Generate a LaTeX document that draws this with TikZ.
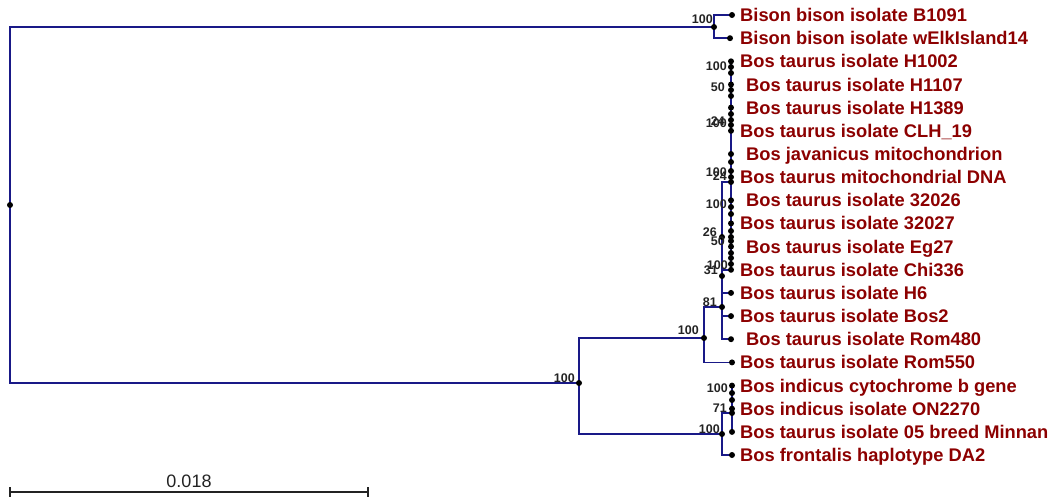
\documentclass[tikz,border=0pt]{standalone}
\usepackage{fontspec}
\setmainfont{Liberation Sans}
\definecolor{branch}{RGB}{25,25,135}
\definecolor{leafred}{RGB}{140,0,0}
\definecolor{numgray}{RGB}{35,35,35}
\tikzset{
  br/.style={draw=branch, line width=1.5pt},
  dotn/.style={fill=black, circle, inner sep=0pt, minimum size=6pt},
  leaflbl/.style={anchor=base west, inner sep=0pt, text=leafred, font=\fontsize{18.3}{20}\selectfont\bfseries},
  bs/.style={anchor=base east, inner sep=0pt, text=numgray, font=\fontsize{12.5}{14}\selectfont\bfseries},
  scalebar/.style={draw=numgray, line width=1.2pt},
}
\begin{document}
\begin{tikzpicture}[x=1pt,y=-1pt]
\useasboundingbox (0,0) rectangle (1057,498);

% internal nodes
\coordinate (root) at (10,205);
\coordinate (bison) at (714,27);
\coordinate (bos) at (579,383);
\coordinate (n100a) at (704,338);
\coordinate (n81) at (722,307);
\coordinate (n31) at (722,276);
\coordinate (n26) at (722,237);
\coordinate (n24) at (731,182);
\coordinate (nbot) at (722,434);
\coordinate (nb71) at (732,413);

% leaves
\coordinate (L1) at (732,15.0);
\coordinate (L2) at (730,38.2);
\coordinate (L3) at (731,61.3);
\coordinate (L4) at (731,84.5);
\coordinate (L5) at (731,107.6);
\coordinate (L6) at (731,130.8);
\coordinate (L7) at (731,154.0);
\coordinate (L8) at (731,177.1);
\coordinate (L9) at (731,200.3);
\coordinate (L10) at (731,223.4);
\coordinate (L11) at (731,246.6);
\coordinate (L12) at (731,269.8);
\coordinate (L13) at (731,292.9);
\coordinate (L14) at (731,316.1);
\coordinate (L15) at (731,339.2);
\coordinate (L16) at (732,362.4);
\coordinate (L17) at (732,385.6);
\coordinate (L18) at (732,408.7);
\coordinate (L19) at (732,431.9);
\coordinate (L20) at (732,455.0);

% branches
\draw[br] (root) |- (bison);
\draw[br] (root) |- (bos);
\draw[br] (bison) |- (L1);
\draw[br] (bison) |- (L2);
\draw[br] (bos) |- (n100a);
\draw[br] (bos) |- (nbot);
\draw[br] (n100a) |- (n81);
\draw[br] (n100a) |- (L16);
\draw[br] (n81) |- (L13);
\draw[br] (n81) |- (L14);
\draw[br] (n81) |- (L15);
\draw[br] (n81) -- (n31);
\draw[br] (n31) |- (L12);
\draw[br] (n31) -- (n26);
\draw[br] (n26) |- (n24);
\draw[br] (L3) -- (L12);
\draw[br] (nbot) |- (nb71);
\draw[br] (nbot) |- (L20);
\draw[br] (L17) -- (L19);

% dots
\foreach \p in {root,bison,bos,n100a,n81,n31,n26,n24,nbot,nb71,
  L1,L2,L3,L4,L5,L6,L7,L8,L9,L10,L11,L12,L13,L14,L15,L16,L17,L18,L19,L20}
  \node[dotn] at (\p) {};
\foreach \yy in {67,73,90,96,114,120,125,162,171,207,214,231,237,241,253,258,264}
  \node[dotn] at (731,\yy) {};
\foreach \yy in {393,400}
  \node[dotn] at (732,\yy) {};

% bootstrap values
\node[bs] (b1) at (713,23) {100};
\node[bs] (b2) at (727,70) {100};
\node[bs] (b3) at (725,91) {50};
\node[bs] (b4) at (727,127.5) {100};
\node[bs] (b5) at (725,125) {24};
\node[bs] (b6) at (727,176) {100};
\node[bs] (b7) at (727,180.5) {24};
\node[bs] (b8) at (727,208) {100};
\node[bs] (b9) at (717,236) {26};
\node[bs] (b10) at (725,245) {50};
\node[bs] (b11) at (728,269) {100};
\node[bs] (b12) at (718,274) {31};
\node[bs] (b13) at (717,306) {81};
\node[bs] (b14) at (699,334) {100};
\node[bs] (b15) at (575,382.5) {100};
\node[bs] (b16) at (728,392) {100};
\node[bs] (b17) at (727,412) {71};
\node[bs] (b18) at (720,433) {100};

% leaf labels
\node[leaflbl] (t1) at (740,21.5) {Bison bison isolate B1091};
\node[leaflbl] (t2) at (740,44.7) {Bison bison isolate wElkIsland14};
\node[leaflbl] (t3) at (740,67.8) {Bos taurus isolate H1002};
\node[leaflbl] (t4) at (746,91.0) {Bos taurus isolate H1107};
\node[leaflbl] (t5) at (746,114.1) {Bos taurus isolate H1389};
\node[leaflbl] (t6) at (740,137.3) {Bos taurus isolate CLH\_19};
\node[leaflbl] (t7) at (746,160.5) {Bos javanicus mitochondrion};
\node[leaflbl] (t8) at (740,183.6) {Bos taurus mitochondrial DNA};
\node[leaflbl] (t9) at (746,206.8) {Bos taurus isolate 32026};
\node[leaflbl] (t10) at (740,229.9) {Bos taurus isolate 32027};
\node[leaflbl] (t11) at (746,253.1) {Bos taurus isolate Eg27};
\node[leaflbl] (t12) at (740,276.3) {Bos taurus isolate Chi336};
\node[leaflbl] (t13) at (740,299.4) {Bos taurus isolate H6};
\node[leaflbl] (t14) at (740,322.6) {Bos taurus isolate Bos2};
\node[leaflbl] (t15) at (746,345.7) {Bos taurus isolate Rom480};
\node[leaflbl] (t16) at (740,368.9) {Bos taurus isolate Rom550};
\node[leaflbl] (t17) at (740,392.1) {Bos indicus cytochrome b gene};
\node[leaflbl] (t18) at (740,415.2) {Bos indicus isolate ON2270};
\node[leaflbl] (t19) at (740,438.4) {Bos taurus isolate 05 breed Minnan};
\node[leaflbl] (t20) at (740,461.5) {Bos frontalis haplotype DA2};

% scale bar
\coordinate (sb1) at (10,492);
\coordinate (sb2) at (368,492);
\coordinate (sb1t) at (10,487);
\coordinate (sb1b) at (10,497);
\coordinate (sb2t) at (368,487);
\coordinate (sb2b) at (368,497);
\draw[scalebar] (sb1) -- (sb2);
\draw[scalebar] (sb1t) -- (sb1b);
\draw[scalebar] (sb2t) -- (sb2b);
\node[anchor=base, inner sep=0pt, text=numgray, font=\fontsize{18}{20}\selectfont] (sbl) at (189,487) {0.018};
\end{tikzpicture}
\end{document}
